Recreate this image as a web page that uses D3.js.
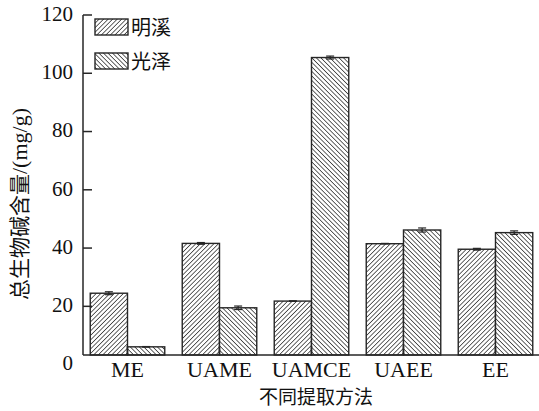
<!DOCTYPE html>
<html>
<head>
<meta charset="utf-8">
<script src="https://cdn.jsdelivr.net/npm/d3@7"></script>
<style>
  html, body { margin: 0; padding: 0; background: #fff; }
  svg { display: block; }
</style>
</head>
<body>
<svg id="chart" width="539" height="411"></svg>
<script>
// Extraction methods on the x axis
const categories = ["ME", "UAME", "UAMCE", "UAEE", "EE"];
// Two sample origins
const seriesNames = ["明溪", "光泽"];
// Total alkaloid content (mg/g)
const mingxi = [24.5, 41.6, 21.8, 41.5, 39.6];
const guangze = [6.1, 19.5, 105.4, 46.2, 45.3];
// Standard deviations
const mingxiErr = [0.5, 0.3, 0.1, 0.1, 0.3];
const guangzeErr = [0.1, 0.6, 0.5, 0.7, 0.6];
const yTicks = [0, 20, 40, 60, 80, 100, 120];
const yTitleCjk = "总生物碱含量";
const yTitleUnit = "/(mg/g)";
const xTitle = "不同提取方法";

const W = 539, H = 411;
const svg = d3.select("#chart");
const latin = "'Liberation Serif', 'Times New Roman', serif";
const cjk = "'Noto Sans CJK SC', 'Noto Sans', sans-serif";
const ink = "#262626";

// Axis frame
const axisX = 83;
const axisFloor = 3.3;            // value where the bottom axis sits
const y = d3.scaleLinear().domain([0, 120]).range([364.6, 15]);
const baseY = y(axisFloor);
const x = d3.scalePoint().domain(categories).range([81.5, 541.5]).padding(0.5);
const barW = x.step() * 0.405;

// Hatch patterns
const defs = svg.append("defs");
function hatch(id, angle) {
  const s = 3.2;
  const p = defs.append("pattern")
    .attr("id", id)
    .attr("patternUnits", "userSpaceOnUse")
    .attr("width", s).attr("height", s)
    .attr("patternTransform", `rotate(${angle})`);
  p.append("rect").attr("width", s).attr("height", s).attr("fill", "#fff");
  p.append("line").attr("x1", 0).attr("y1", 0).attr("x2", 0).attr("y2", s)
    .attr("stroke", "#333").attr("stroke-width", 1.5);
}
hatch("hatchA", 45);   // "/" lines
hatch("hatchB", -45);  // "\" lines
const fills = ["url(#hatchA)", "url(#hatchB)"];

const series = [mingxi, guangze];
const errs = [mingxiErr, guangzeErr];

// Bars
series.forEach((vals, s) => {
  const g = svg.append("g");
  g.selectAll("rect")
    .data(vals)
    .join("rect")
    .attr("x", (d, i) => x(categories[i]) - barW + s * barW)
    .attr("y", d => y(d))
    .attr("width", barW)
    .attr("height", d => baseY - y(d))
    .attr("fill", fills[s])
    .attr("stroke", ink)
    .attr("stroke-width", 1.4);
});

// Error bars
series.forEach((vals, s) => {
  const g = svg.append("g").attr("stroke", ink).attr("stroke-width", 1.2);
  vals.forEach((v, i) => {
    const cx = x(categories[i]) - barW / 2 + s * barW;
    const e = errs[s][i];
    g.append("line").attr("x1", cx).attr("x2", cx).attr("y1", y(v - e)).attr("y2", y(v + e));
    g.append("line").attr("x1", cx - 4).attr("x2", cx + 4).attr("y1", y(v + e)).attr("y2", y(v + e));
    g.append("line").attr("x1", cx - 4).attr("x2", cx + 4).attr("y1", y(v - e)).attr("y2", y(v - e));
  });
});

// Y axis
const yAxis = svg.append("g");
yAxis.append("line")
  .attr("x1", axisX).attr("x2", axisX)
  .attr("y1", y(120)).attr("y2", baseY)
  .attr("stroke", ink).attr("stroke-width", 1.5);
yAxis.selectAll("line.tick")
  .data(yTicks.filter(t => t > axisFloor))
  .join("line").attr("class", "tick")
  .attr("x1", axisX).attr("x2", axisX + 9)
  .attr("y1", d => y(d)).attr("y2", d => y(d))
  .attr("stroke", ink).attr("stroke-width", 1.5);
yAxis.selectAll("text")
  .data(yTicks)
  .join("text")
  .attr("x", axisX - 10)
  .attr("y", d => y(d) - 1.5)
  .attr("dy", "0.35em")
  .attr("text-anchor", "end")
  .attr("font-family", latin)
  .attr("font-size", 21)
  .attr("fill", "#111")
  .text(d => d);

// X axis
const xAxis = svg.append("g");
xAxis.append("line")
  .attr("x1", axisX).attr("x2", W)
  .attr("y1", baseY).attr("y2", baseY)
  .attr("stroke", ink).attr("stroke-width", 1.5);
xAxis.selectAll("line.tick")
  .data(categories)
  .join("line").attr("class", "tick")
  .attr("x1", d => x(d)).attr("x2", d => x(d))
  .attr("y1", baseY).attr("y2", baseY - 9)
  .attr("stroke", ink).attr("stroke-width", 1.5);
xAxis.selectAll("text")
  .data(categories)
  .join("text")
  .attr("x", d => x(d))
  .attr("y", 377)
  .attr("text-anchor", "middle")
  .attr("font-family", latin)
  .attr("font-size", 22)
  .attr("fill", "#111")
  .text(d => d);

// Axis titles
svg.append("text")
  .attr("x", 316).attr("y", 404)
  .attr("text-anchor", "middle")
  .attr("font-family", cjk)
  .attr("font-size", 19)
  .attr("fill", "#111")
  .text(xTitle);

const yt = svg.append("text")
  .attr("transform", `translate(27,204) rotate(-90)`)
  .attr("text-anchor", "middle")
  .attr("font-size", 21)
  .attr("fill", "#111");
yt.append("tspan").attr("font-family", cjk).text(yTitleCjk);
yt.append("tspan").attr("font-family", latin).attr("font-size", 22).text(yTitleUnit);

// Legend
const legend = svg.append("g");
seriesNames.forEach((name, s) => {
  const ly = 19 + s * 34;
  legend.append("rect")
    .attr("x", 95).attr("y", ly)
    .attr("width", 33).attr("height", 16)
    .attr("fill", fills[s])
    .attr("stroke", ink).attr("stroke-width", 1.4);
  legend.append("text")
    .attr("x", 131).attr("y", ly + 8.5)
    .attr("dy", "0.35em")
    .attr("font-family", cjk)
    .attr("font-size", 20)
    .attr("fill", "#111")
    .text(name);
});
</script>
</body>
</html>
